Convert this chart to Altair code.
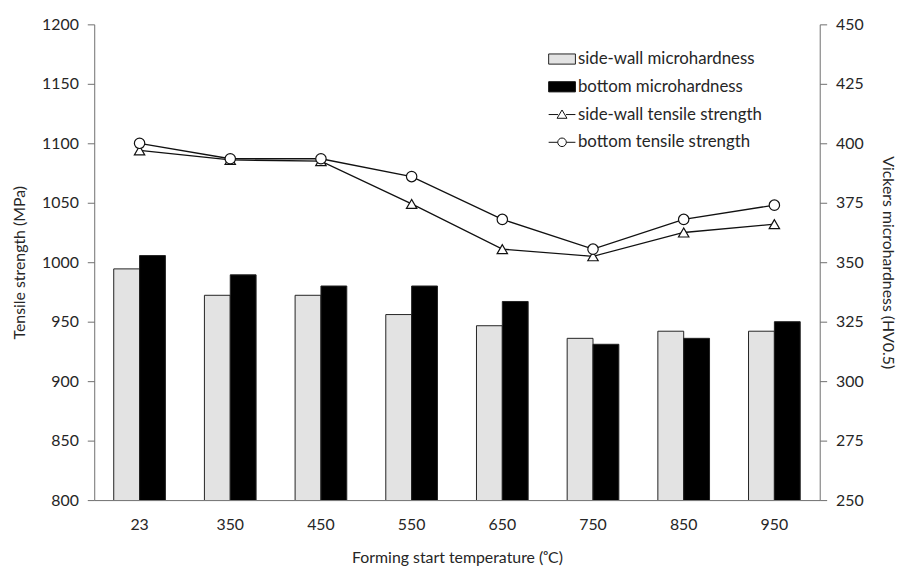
import altair as alt
import pandas as pd

temps = ["23", "350", "450", "550", "650", "750", "850", "950"]
sidewall_hv = [347.2, 336.1, 336.1, 328.0, 323.3, 318.0, 321.0, 321.0]
bottom_hv = [352.8, 344.7, 340.0, 340.0, 333.5, 315.5, 318.0, 325.0]
sidewall_ts = [1094, 1086, 1085, 1049, 1011, 1005, 1025, 1032]
bottom_ts = [1100, 1087, 1087, 1072, 1036, 1011, 1036, 1048]

S_HV = "side-wall microhardness"
B_HV = "bottom microhardness"
S_TS = "side-wall tensile strength"
B_TS = "bottom tensile strength"
series_names = [S_HV, B_HV, S_TS, B_TS]

bars_df = pd.DataFrame(
    {"temp": temps * 2,
     "series": [S_HV] * len(temps) + [B_HV] * len(temps),
     "hv": sidewall_hv + bottom_hv}
)
ts_df = pd.DataFrame(
    {"temp": temps * 2,
     "series": [S_TS] * len(temps) + [B_TS] * len(temps),
     "ts": sidewall_ts + bottom_ts}
)
legend_df = pd.DataFrame({"series": series_names})

TXT = "#262626"
AX = "#6e6e6e"
FONT = "Lato"

x_scale = alt.Scale(paddingInner=0.43, paddingOuter=0.215)
x_axis = alt.Axis(title="Forming start temperature (ᵒC)", labelAngle=0, ticks=False,
                  domainColor=AX, labelPadding=17, titlePadding=17)

bar_fill_scale = alt.Scale(domain=[S_HV, B_HV], range=["#e3e3e3", "#000000"])
legend_color_scale = alt.Scale(domain=series_names,
                               range=["#e3e3e3", "#000000", "#ffffff", "#ffffff"])
legend_stroke_scale = alt.Scale(domain=series_names,
                                range=["#222222", "#111111", "#111111", "#111111"])
rect_path = "M-1,-0.38H1V0.38H-1Z"
tri_path = "M-1,0H-0.3M0.3,0H1M0,-0.34L0.37,0.28H-0.37Z"
circ_path = "M-1,0H-0.32M0.32,0H1M0.32,0A0.32,0.32 0 1,1 -0.32,0A0.32,0.32 0 1,1 0.32,0Z"
shape_scale = alt.Scale(domain=series_names, range=[rect_path, rect_path, tri_path, circ_path])
legend = alt.Legend(title=None, orient="none", legendX=458, legendY=21,
                    symbolSize=729, symbolStrokeColor="#111", symbolStrokeWidth=1,
                    rowPadding=6, labelOffset=2, labelFont=FONT, labelFontSize=17,
                    labelColor=TXT, symbolOpacity=1, padding=0, labelLimit=0)

bars = alt.Chart(bars_df).mark_bar(stroke="#222", strokeWidth=1, clip=True).encode(
    x=alt.X("temp:N", sort=temps, scale=x_scale, axis=x_axis),
    xOffset=alt.XOffset("series:N", sort=[S_HV, B_HV]),
    y=alt.Y("hv:Q", scale=alt.Scale(domain=[250, 450], nice=False, zero=False),
            axis=alt.Axis(orient="right", title="Vickers microhardness (HV0.5)",
                          values=list(range(250, 451, 25)), grid=False, format="d",
                          domainColor=AX, tickColor=AX, tickSize=7, labelPadding=9,
                          titlePadding=17)),
    fill=alt.Fill("series:N", scale=bar_fill_scale, legend=None),
)

y_left = alt.Y("ts:Q", scale=alt.Scale(domain=[800, 1200], nice=False, zero=False),
               axis=alt.Axis(orient="left", title="Tensile strength (MPa)",
                             values=list(range(800, 1201, 50)), grid=False, format="d",
                             domainColor=AX, tickColor=AX, tickSize=7, labelPadding=9,
                             titlePadding=14))
x_line = alt.X("temp:N", sort=temps, scale=x_scale, axis=x_axis, bandPosition=0.5)

lines = alt.Chart(ts_df).mark_line(color="#111", strokeWidth=1.3).encode(
    x=x_line, y=y_left, detail="series:N"
)
tri = alt.Chart(ts_df).transform_filter(alt.datum.series == S_TS).mark_point(
    shape="triangle-up", filled=True, fill="white", stroke="#111", strokeWidth=1.2,
    size=110, opacity=1
).encode(x=x_line, y=y_left)
circ = alt.Chart(ts_df).transform_filter(alt.datum.series == B_TS).mark_point(
    shape="circle", filled=True, fill="white", stroke="#111", strokeWidth=1.2,
    size=110, opacity=1
).encode(x=x_line, y=y_left)

legend_layer = alt.Chart(legend_df).mark_point(
    filled=True, strokeWidth=1
).encode(
    color=alt.Color("series:N", scale=legend_color_scale, legend=legend),
    stroke=alt.Stroke("series:N", scale=legend_stroke_scale, legend=legend),
    shape=alt.Shape("series:N", scale=shape_scale, legend=legend),
    opacity=alt.value(0),
)

left = alt.layer(lines, tri, circ)

chart = alt.layer(bars, left, legend_layer).resolve_scale(y="independent").properties(
    width=732, height=480,
    autosize=alt.AutoSizeParams(type="none"),
    padding={"left": 87, "top": 14, "right": 81, "bottom": 64},
).configure_view(stroke=None).configure_axis(
    labelFont=FONT, labelFontSize=16, labelColor=TXT,
    titleFont=FONT, titleFontSize=16, titleFontWeight="normal", titleColor=TXT,
)

chart.save("out.html", embed_options={"renderer": "svg", "actions": False})
